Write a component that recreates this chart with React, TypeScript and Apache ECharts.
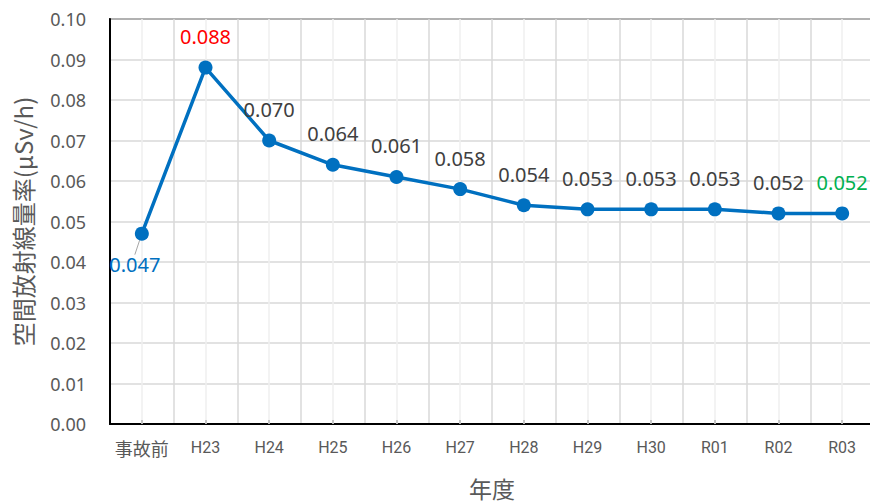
import React, { useEffect, useRef } from "react";
import * as echarts from "echarts";

const categories = ["事故前", "H23", "H24", "H25", "H26", "H27", "H28", "H29", "H30", "R01", "R02", "R03"];
const doseRates = [0.047, 0.088, 0.07, 0.064, 0.061, 0.058, 0.054, 0.053, 0.053, 0.053, 0.052, 0.052];
const yTicks = { min: 0, max: 0.1, interval: 0.01 };
const yName = "空間放射線量率(μSv/h)";
const xName = "年度";

export default function App() {
  const ref = useRef<HTMLDivElement>(null);

  useEffect(() => {
    if (!ref.current) return;
    const chart = echarts.init(ref.current, undefined, { renderer: "svg" });
    const last = doseRates.length - 1;
    const data = doseRates.map((v, i) => {
      if (i === 0) {
        return {
          value: v,
          label: { position: "bottom", color: "#0070C0" },
          labelLine: { show: true, lineStyle: { color: "#a6a6a6", width: 1 } },
        };
      }
      if (i === 1) return { value: v, label: { color: "#FF0000" } };
      if (i === last) return { value: v, label: { color: "#00B050" } };
      return { value: v };
    });

    chart.setOption({
      animation: false,
      backgroundColor: "#ffffff",
      grid: {
        left: 110,
        top: 19,
        right: 6,
        bottom: 76,
        show: true,
        borderColor: "#000000",
        borderWidth: 1.5,
        containLabel: false,
      },
      xAxis: {
        type: "category",
        data: categories,
        boundaryGap: true,
        name: xName,
        nameLocation: "middle",
        nameGap: 52,
        nameTextStyle: { fontSize: 23, color: "#595959", fontFamily: "'Noto Sans CJK JP'" },
        axisLine: { show: true, lineStyle: { color: "#000000", width: 2 } },
        axisTick: { show: true, alignWithLabel: true, inside: true, length: 4, lineStyle: { color: "#000000", width: 1.5 } },
        axisLabel: {
          color: "#595959",
          fontSize: 16,
          margin: 15,
          fontFamily: "Roboto, 'Noto Sans CJK JP'",
          interval: 0,
          formatter: (v: string) => (/^[\x00-\x7f]+$/.test(v) ? v : "{cjk|" + v + "}"),
          rich: {
            cjk: { fontSize: 18, color: "#595959", fontFamily: "'Noto Sans CJK JP'" },
          },
        },
        splitLine: { show: true, lineStyle: { color: "#d9d9d9", width: 1.5 } },
      },
      yAxis: {
        type: "value",
        min: yTicks.min,
        max: yTicks.max,
        interval: yTicks.interval,
        name: yName,
        nameLocation: "middle",
        nameGap: 76,
        nameTextStyle: { fontSize: 24, color: "#595959", fontFamily: "'Noto Sans CJK JP'" },
        axisLine: { show: true, lineStyle: { color: "#000000", width: 2 } },
        axisTick: { show: false },
        axisLabel: {
          color: "#595959",
          fontSize: 18,
          margin: 24,
          fontFamily: "'Noto Sans'",
          formatter: (v: number) => v.toFixed(2),
        },
        splitLine: { show: true, lineStyle: { color: "#d9d9d9", width: 1.5 } },
      },
      series: [
        {
          type: "line",
          data,
          z: 3,
          color: "#0070C0",
          lineStyle: { color: "#0070C0", width: 3.5 },
          itemStyle: { color: "#0070C0" },
          symbol: "circle",
          symbolSize: 14,
          label: {
            show: true,
            position: "top",
            distance: 14,
            fontSize: 20,
            color: "#404040",
            fontFamily: "'Noto Sans'",
            formatter: (p: any) => Number(p.value).toFixed(3),
          },
          labelLayout: (params: any) => (params.dataIndex === 0 ? { dx: -7, dy: 0 } : {}),
          markLine: {
            silent: true,
            z: 1,
            symbol: "none",
            label: { show: false },
            lineStyle: { color: "#efefef", width: 1.5, type: "solid" },
            data: categories.map((c) => ({ xAxis: c })),
          },
        },
      ],
    });
    return () => chart.dispose();
  }, []);

  return (
    <div style={{ position: "absolute", left: 0, top: 0, width: 870, height: 504, overflow: "hidden" }}>
      <div ref={ref} style={{ width: 880, height: 504 }} />
    </div>
  );
}
